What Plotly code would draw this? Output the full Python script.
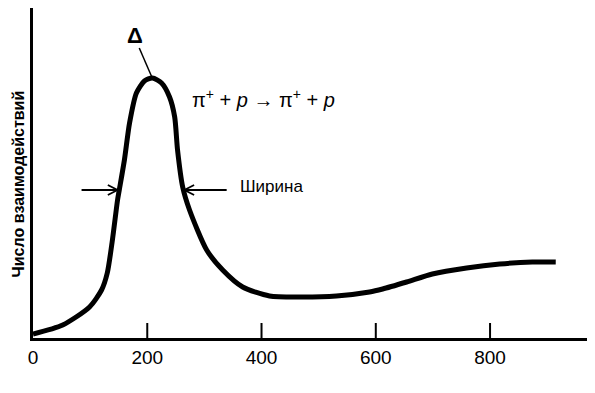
import plotly.graph_objects as go

# Data (kinetic energy in MeV, interaction count in arbitrary units)
energy = [0, 52, 99, 120, 130, 139, 148, 151, 160, 169, 181, 195, 209, 225, 239, 248,
          253, 262, 274, 304, 332, 367, 414, 472, 531, 589, 612, 654, 699, 759, 817, 874, 915]
counts = [4, 13, 31, 48, 65, 98, 138, 148, 178, 215, 245, 257, 260, 255, 241, 221,
          188, 151, 128, 88, 68, 51, 42, 41, 42, 46, 49, 56, 64, 70, 74, 76, 76]
x_ticks = [200, 400, 600, 800]
x_tick_labels = ["200", "400", "600", "800"]

X_MAX = 983.7
Y_MAX = 330
FONT = "Arial"

fig = go.Figure()
fig.add_trace(go.Scatter(x=energy, y=counts, mode="lines",
                         line=dict(color="black", width=5, shape="spline", smoothing=0.7),
                         hoverinfo="skip", showlegend=False))

# tick marks pointing up from the x axis
for t in x_ticks:
    fig.add_shape(type="line", x0=t, x1=t, y0=0, y1=15, xref="x", yref="y",
                  line=dict(color="black", width=2))

# width arrows
arrow_y = 148
def chevron(tip_x, direction):
    dx = 17 * direction
    return (f"M {tip_x - dx},{arrow_y + 5} L {tip_x},{arrow_y} L {tip_x - dx},{arrow_y - 5}")

fig.add_shape(type="line", x0=85, x1=148, y0=arrow_y, y1=arrow_y, line=dict(color="black", width=2))
fig.add_shape(type="path", path=chevron(148, 1), line=dict(color="black", width=1.8))
fig.add_shape(type="line", x0=265, x1=339, y0=arrow_y, y1=arrow_y, line=dict(color="black", width=2))
fig.add_shape(type="path", path=chevron(265, -1), line=dict(color="black", width=1.8))

# Delta pointer
fig.add_shape(type="line", x0=186, y0=290, x1=208, y1=261, line=dict(color="black", width=1.5))

fig.add_annotation(x=178, y=303, text="<b>Δ</b>", showarrow=False,
                   font=dict(size=22, color="black", family=FONT))
fig.add_annotation(x=404, y=240, text="π<sup>+</sup> + <i>p</i> → π<sup>+</sup> + <i>p</i>",
                   showarrow=False, font=dict(size=20, color="black", family=FONT))
fig.add_annotation(x=359, y=152, text="Ширина", showarrow=False, xanchor="left",
                   font=dict(size=17, color="black", family=FONT))

# axis titles
fig.add_annotation(x=479, y=-46, xref="x", yref="y", text="КЭ пиона, МэВ", showarrow=False,
                   font=dict(size=17, color="black", family=FONT))
fig.add_annotation(x=-15.5 / 562, xref="paper", xanchor="center", yanchor="middle",
                   y=154, yref="y", text="<b>Число взаимодействий</b>",
                   textangle=-90, showarrow=False, borderpad=0,
                   font=dict(size=16, color="black", family=FONT))

# the page body has an 8px default margin, so the figure is sized to fit inside it
fig.update_layout(
    width=587, height=385,
    margin=dict(l=25, r=0, t=0, b=55),
    paper_bgcolor="white", plot_bgcolor="white",
    xaxis=dict(range=[0, X_MAX], showgrid=False, zeroline=False, showline=True,
               linecolor="black", linewidth=2.5, ticks="", tickmode="array",
               tickvals=[0] + x_ticks, ticktext=["0"] + x_tick_labels,
               tickfont=dict(size=19, color="black", family=FONT)),
    yaxis=dict(range=[0, Y_MAX], showgrid=False, zeroline=False, showline=True,
               linecolor="black", linewidth=3, showticklabels=False, ticks=""),
)

fig.write_html("out.html")
